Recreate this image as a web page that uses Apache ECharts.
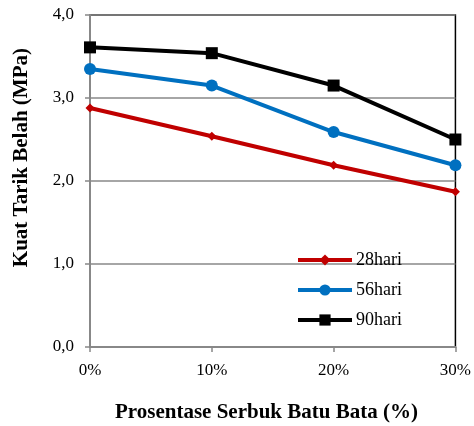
<!DOCTYPE html>
<html><head><meta charset="utf-8">
<script src="https://cdn.jsdelivr.net/npm/echarts@6/dist/echarts.min.js"></script>
<style>html,body{margin:0;padding:0;background:#fff}#c{width:474px;height:426px}</style>
</head><body><div id="c"></div>
<script>
const categories = ['0%', '10%', '20%', '30%'];
const seriesNames = ['28hari', '56hari', '90hari'];
const hari28 = [2.88, 2.54, 2.19, 1.87];
const hari56 = [3.35, 3.15, 2.59, 2.19];
const hari90 = [3.61, 3.54, 3.15, 2.50];
const yTicks = [0, 1, 2, 3, 4];

const font = '"Liberation Serif", "Times New Roman", serif';
const chart = echarts.init(document.getElementById('c'));
chart.setOption({
  animation: false,
  backgroundColor: '#fff',
  grid: {left: 90, right: 17, top: 15, bottom: 79, show: true, borderColor: '#000', borderWidth: 1.5, backgroundColor: 'transparent'},
  xAxis: {
    type: 'category', data: categories, boundaryGap: false,
    axisLine: {lineStyle: {color: '#888', width: 2}},
    axisTick: {show: true, length: 5, alignWithLabel: true, lineStyle: {color: '#888', width: 1.5}},
    axisLabel: {fontFamily: font, fontSize: 17, color: '#000', margin: 15},
    splitLine: {show: false}
  },
  yAxis: {
    type: 'value', min: 0, max: 4, interval: 1,
    axisLine: {show: true, lineStyle: {color: '#888', width: 2}},
    axisTick: {show: true, length: 5, lineStyle: {color: '#888', width: 1.5}},
    axisLabel: {fontFamily: font, fontSize: 17, color: '#000', margin: 16,
      formatter: v => yTicks.includes(v) ? v.toFixed(1).replace('.', ',') : ''},
    splitLine: {show: true, lineStyle: {color: '#888', width: 1.5}}
  },
  legend: {
    orient: 'vertical', left: 296, top: 251, padding: 0, itemWidth: 54, itemHeight: 14, itemGap: 12,
    lineStyle: {width: 4},
    textStyle: {fontFamily: font, fontSize: 18, color: '#000', padding: [0, 0, 0, -1]},
    data: seriesNames
  },
  graphic: [
    {type: 'text', left: 11, top: 48, rotation: Math.PI / 2,
      style: {text: 'Kuat Tarik Belah (MPa)', font: 'bold 21px ' + font, fill: '#000'}},
    {type: 'text', left: 115, top: 402,
      style: {text: 'Prosentase Serbuk Batu Bata (%)', font: 'bold 21px ' + font, fill: '#000'}}
  ],
  series: [
    {name: seriesNames[0], type: 'line', data: hari28, color: '#C00000', symbol: 'diamond', symbolSize: 9,
      lineStyle: {width: 4}, itemStyle: {color: '#C00000'}},
    {name: seriesNames[1], type: 'line', data: hari56, color: '#0070C0', symbol: 'circle', symbolSize: 12,
      lineStyle: {width: 4}, itemStyle: {color: '#0070C0'}},
    {name: seriesNames[2], type: 'line', data: hari90, color: '#000000', symbol: 'rect', symbolSize: 12,
      lineStyle: {width: 4}, itemStyle: {color: '#000000'}}
  ]
});
</script></body></html>
